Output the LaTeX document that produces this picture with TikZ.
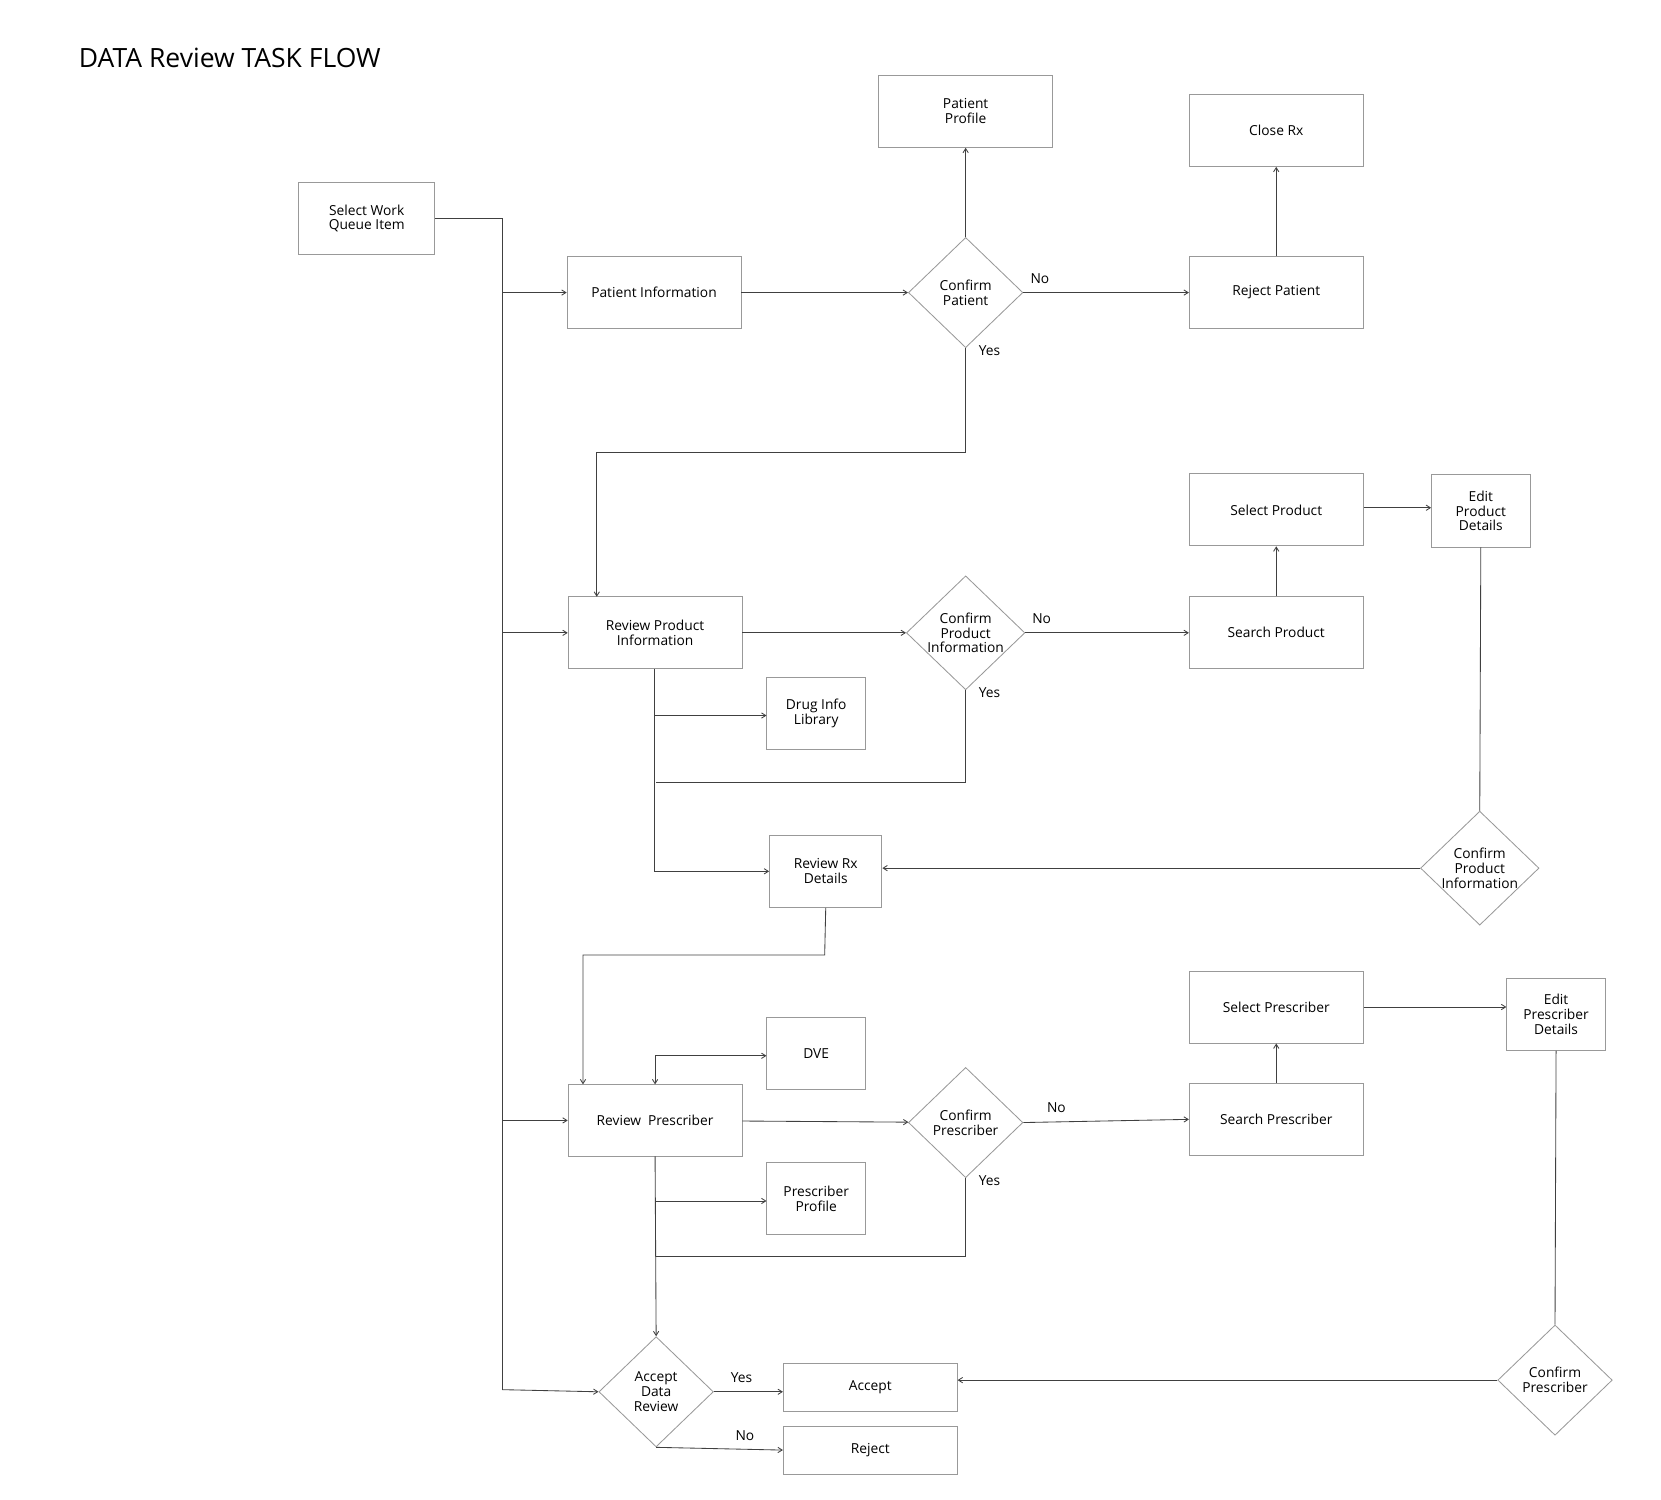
\documentclass[tikz,border=0pt]{standalone}
\usepackage{fontspec}
\setmainfont{Open Sans}
\usetikzlibrary{shapes.geometric,arrows.meta}
\begin{document}
\begin{tikzpicture}[x=0.5pt,y=-0.5pt,
  every node/.style={font=\fontsize{6.5}{7}\selectfont,align=center,inner sep=0pt},
  bx/.style={draw=gray!80,minimum width=#1*0.5pt,minimum height=34pt},
  bx/.default=164,
  dm/.style={draw=gray!80,diamond,minimum width=54pt,minimum height=52pt,aspect=1.04},
  ln/.style={draw=black!75,line width=0.4pt},
  ar/.style={ln,-{Straight Barb[length=2pt,width=2.5pt]}},
  lb/.style={font=\fontsize{6.5}{7}\selectfont}]
\useasboundingbox (0,0) rectangle (1567,1415);
\node[anchor=west,font=\fontsize{12.5}{14}\selectfont] (title) at (74,55) {DATA Review TASK FLOW};
\node[bx=128] (swq) at (346,206) {Select Work\\Queue Item};
\node[bx] (pi) at (617,276) {Patient Information};
\node[dm] (cp) at (911,276) {Confirm\\Patient};
\node[bx] (pp) at (911,105) {Patient\\Profile};
\node[bx] (crx) at (1204,123) {Close Rx};
\node[bx] (rp) at (1204,276) {Reject Patient};
\node[bx] (rpi) at (618,597) {Review Product\\Information};
\node[dm] (cpi) at (911,597) {Confirm\\Product\\Information};
\node[bx] (sp) at (1204,597) {Search Product};
\node[bx] (selp) at (1204,481) {Select Product};
\node[bx=93] (epd) at (1397,482) {Edit\\Product\\Details};
\node[bx=93] (dil) at (770,673) {Drug Info\\Library};
\node[bx=106] (rrx) at (779,822) {Review Rx\\Details};
\node[dm] (cpi2) at (1396,819) {Confirm\\Product\\Information};
\node[bx=93] (dve) at (770,994) {DVE};
\node[bx] (rpr) at (618,1057) {Review\enspace Prescriber};
\node[dm] (cpr) at (911,1059) {Confirm\\Prescriber};
\node[bx] (spr) at (1204,1056) {Search Prescriber};
\node[bx] (selpr) at (1204,950) {Select Prescriber};
\node[bx=93] (epr) at (1468,957) {Edit\\Prescriber\\Details};
\node[bx=93] (prp) at (770,1131) {Prescriber\\Profile};
\node[dm] (adr) at (619,1313) {Accept\\Data\\Review};
\node[bx,minimum height=22.5pt] (acc) at (821,1309) {Accept};
\node[bx,minimum height=22.5pt] (rej) at (821,1368) {Reject};
\node[dm] (cpr2) at (1467,1302) {Confirm\\Prescriber};
% trunk
\coordinate (t0) at (474,206);
\draw[ln] (swq.east) -- (t0) -- (474,1311);
\draw[ar] (474,276) -- (pi.west);
\draw[ar] (474,597) -- (rpi.west);
\draw[ar] (474,1057) -- (rpr.west);
\draw[ar] (474,1311) -- (adr.west);
% patient
\draw[ar] (pi) -- (cp);
\draw[ar] (cp.north) -- (pp.south);
\draw[ar] (cp.east) -- node[lb,pos=0.1,above=4pt]{No} (rp.west);
\draw[ar] (rp.north) -- (crx.south);
\draw[ar] (cp.south) -- node[lb,pos=0,right=6pt,yshift=-1pt]{Yes} (911,427) -- (563,427) -- (563,563);
% product
\draw[ar] (rpi) -- (cpi);
\draw[ar] (cpi.east) -- node[lb,pos=0.1,above=4pt]{No} (sp.west);
\draw[ar] (sp.north) -- (selp.south);
\draw[ar] (selp.east |- 479,479) -- (epd.west |- 479,479);
\draw[ln] (epd.south) -- (cpi2.north);
\draw[ar] (cpi2.west) -- (rrx.east |- cpi2.west);
\draw[ar] (617,631) -- (617,822) -- (rrx.west |- 617,822);
\draw[ar] (617,675) -- (dil.west |- 617,675);
\draw[ln] (cpi.south) -- node[lb,pos=0,right=6pt,yshift=-1pt]{Yes} (911,738) -- (619,738);
\draw[ar] (rrx.south) -- (778,901) -- (550,901) -- (550,1023);
% prescriber
\draw[{Straight Barb[length=2pt,width=2.5pt]}-{Straight Barb[length=2pt,width=2.5pt]},ln] (618,1023) -- (618,996) -- (dve.west |- 618,996);
\draw[ar] (rpr) -- (cpr);
\draw[ar] (cpr.east) -- node[lb,pos=0.2,above=4pt]{No} (spr.west);
\draw[ar] (spr.north) -- (selpr.south);
\draw[ar] (selpr.east) -- (epr.west |- selpr.east);
\draw[ln] (epr.south) -- (cpr2.north);
\draw[ar] (cpr2.west) -- (acc.east |- cpr2.west);
\draw[ar] (618,1091) -- (adr.north);
\draw[ar] (618,1133) -- (prp.west |- 618,1133);
\draw[ln] (cpr.south) -- node[lb,pos=0,right=6pt,yshift=-1pt]{Yes} (911,1185) -- (619,1185);
% accept
\draw[ar] (adr.east) -- node[lb,pos=0.4,above=4pt]{Yes} (acc.west |- adr.east);
\draw[ar] (adr.south) -- node[lb,pos=0.7,above=4pt]{No} (rej.west);
\end{tikzpicture}
\end{document}
